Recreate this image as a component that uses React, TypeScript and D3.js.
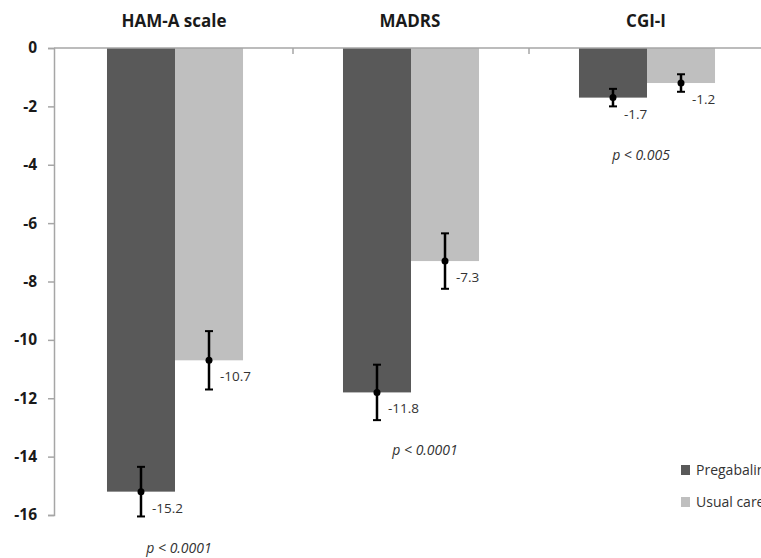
import React, { useRef, useEffect } from "react";
import * as d3 from "d3";

const categories = ["HAM-A scale", "MADRS", "CGI-I"];
const seriesNames = ["Pregabalin", "Usual care"];
const pregabalinValues = [-15.2, -11.8, -1.7];
const usualCareValues = [-10.7, -7.3, -1.2];
const pregabalinErrors = [0.85, 0.95, 0.3];
const usualCareErrors = [1.0, 0.95, 0.3];
const pValueLabels = ["p < 0.0001", "p < 0.0001", "p < 0.005"];
const yTicks = [0, -2, -4, -6, -8, -10, -12, -14, -16];

const colors = ["#595959", "#bfbfbf"];

const App = () => {
  const svgRef = useRef<SVGSVGElement>(null);

  useEffect(() => {
    const width = 761;
    const height = 558;
    const svg = d3.select(svgRef.current).attr("width", width).attr("height", height);
    svg.selectAll("*").remove();

    const font = "'Open Sans', 'DejaVu Sans', sans-serif";

    const y = d3.scaleLinear().domain([0, -16]).range([48, 515]);
    const x = d3.scaleBand().domain(categories).range([57, 765]).padding(0);
    const xInner = d3
      .scaleBand()
      .domain(seriesNames)
      .range([0, x.bandwidth()])
      .paddingInner(0)
      .paddingOuter(0.735);

    const rows = categories.map((c, i) => ({
      category: c,
      bars: [
        { series: seriesNames[0], value: pregabalinValues[i], err: pregabalinErrors[i] },
        { series: seriesNames[1], value: usualCareValues[i], err: usualCareErrors[i] },
      ],
    }));

    // bars
    const groups = svg
      .selectAll("g.grp")
      .data(rows)
      .join("g")
      .attr("class", "grp")
      .attr("transform", (d) => `translate(${x(d.category)},0)`);

    groups
      .selectAll("rect")
      .data((d) => d.bars)
      .join("rect")
      .attr("x", (d) => xInner(d.series)!)
      .attr("y", y(0))
      .attr("width", xInner.bandwidth())
      .attr("height", (d) => y(d.value) - y(0))
      .attr("fill", (d, i) => colors[i]);

    // axes
    const axisColor = "#a6a6a6";
    svg
      .append("line")
      .attr("x1", 54)
      .attr("x2", width)
      .attr("y1", y(0))
      .attr("y2", y(0))
      .attr("stroke", axisColor)
      .attr("stroke-width", 1.5);

    const yAxis = svg
      .append("g")
      .attr("transform", "translate(54,0)")
      .call(d3.axisLeft(y).tickValues(yTicks).tickSize(6).tickPadding(11).tickFormat(d3.format("d")));
    yAxis.select(".domain").attr("stroke", axisColor).attr("stroke-width", 1.5);
    yAxis.selectAll(".tick line").attr("stroke", axisColor).attr("stroke-width", 1.5);
    yAxis
      .selectAll(".tick text")
      .attr("fill", "#1a1a1a")
      .attr("font-family", font)
      .attr("font-weight", "bold")
      .attr("font-size", 15.5)
      .text((d: any) => (d === 0 ? "0" : `-${Math.abs(d)}`));

    // category separator ticks
    svg
      .selectAll("line.sep")
      .data(categories.slice(1))
      .join("line")
      .attr("class", "sep")
      .attr("x1", (d) => x(d)!)
      .attr("x2", (d) => x(d)!)
      .attr("y1", y(0))
      .attr("y2", y(0) + 6)
      .attr("stroke", axisColor)
      .attr("stroke-width", 1.5);

    // error bars
    const eb = groups
      .selectAll("g.eb")
      .data((d) => d.bars)
      .join("g")
      .attr("class", "eb")
      .attr("transform", (d) => `translate(${xInner(d.series)! + xInner.bandwidth() / 2},0)`);
    eb.append("line")
      .attr("y1", (d) => y(d.value - d.err))
      .attr("y2", (d) => y(d.value + d.err))
      .attr("stroke", "#000")
      .attr("stroke-width", 2.5);
    eb.selectAll("line.cap")
      .data((d) => [d.value - d.err, d.value + d.err])
      .join("line")
      .attr("class", "cap")
      .attr("x1", -4)
      .attr("x2", 4)
      .attr("y1", (v) => y(v))
      .attr("y2", (v) => y(v))
      .attr("stroke", "#000")
      .attr("stroke-width", 2);
    eb.append("circle").attr("cy", (d) => y(d.value)).attr("r", 3.5).attr("fill", "#000");
    eb.append("text")
      .attr("x", 11)
      .attr("y", (d) => y(d.value) + 21)
      .attr("font-family", font)
      .attr("font-size", 13.5)
      .attr("fill", "#333")
      .text((d) => d.value.toFixed(1));

    // titles
    svg
      .selectAll("text.title")
      .data(categories)
      .join("text")
      .attr("class", "title")
      .attr("x", (d) => x(d)! + x.bandwidth() / 2 - 1)
      .attr("y", 27)
      .attr("text-anchor", "middle")
      .attr("font-family", font)
      .attr("font-weight", "bold")
      .attr("font-size", 17)
      .attr("fill", "#1a1a1a")
      .text((d) => d);

    // p-value annotations
    const pAt = [
      { dx: 4, v: -17.3 },
      { dx: 14, v: -13.95 },
      { dx: -6, v: -3.85 },
    ];
    svg
      .selectAll("text.p")
      .data(pValueLabels)
      .join("text")
      .attr("class", "p")
      .attr("x", (d, i) => x(categories[i])! + x.bandwidth() / 2 + pAt[i].dx)
      .attr("y", (d, i) => y(pAt[i].v))
      .attr("text-anchor", "middle")
      .attr("font-family", font)
      .attr("font-style", "italic")
      .attr("font-size", 14)
      .attr("fill", "#333")
      .text((d) => d);

    // legend
    const legend = svg
      .selectAll("g.leg")
      .data(seriesNames)
      .join("g")
      .attr("class", "leg")
      .attr("transform", (d, i) => `translate(681,${470 + i * 32})`);
    legend
      .append("rect")
      .attr("x", 0)
      .attr("y", -5)
      .attr("width", 9)
      .attr("height", 10)
      .attr("fill", (d, i) => colors[i]);
    legend
      .append("text")
      .attr("x", 15)
      .attr("y", 5)
      .attr("font-family", font)
      .attr("font-size", 14)
      .attr("fill", "#333")
      .text((d) => d);
  }, []);

  return (
    <div style={{ position: "absolute", left: 0, top: 0, background: "#fff" }}>
      <svg ref={svgRef} style={{ display: "block" }}></svg>
    </div>
  );
};

export default App;
